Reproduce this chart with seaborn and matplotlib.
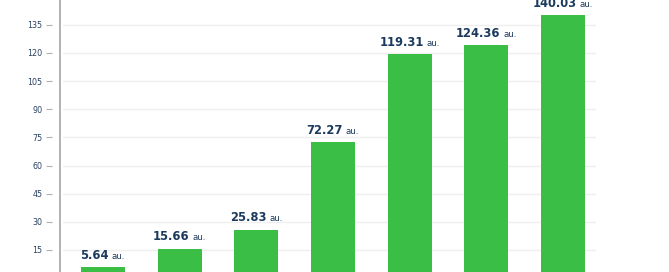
import matplotlib
matplotlib.use("Agg")
import matplotlib.pyplot as plt
import seaborn as sns
from matplotlib.lines import Line2D
from matplotlib.offsetbox import TextArea, HPacker, AnnotationBbox

categories = ["1", "2", "3", "4", "5", "6", "7"]
values = [5.64, 15.66, 25.83, 72.27, 119.31, 124.36, 140.03]
unit = "au."
yticks = [15, 30, 45, 60, 75, 90, 105, 120, 135]

W, H = 669, 272
sns.set_theme(style="white")
plt.rcParams['font.family'] = ['DejaVu Sans']

fig = plt.figure(figsize=(W / 100, H / 100), dpi=100)
left_px, right_px = 63, 596
zero_px = 278  # y pixel (from top) of value 0
ppu = 1.875
top_val = 150
ax = fig.add_axes([left_px / W, (H - zero_px) / H,
                   (right_px - left_px) / W, top_val * ppu / H])

bar_color = "#3bbe46"
sns.barplot(x=categories, y=values, color=bar_color, width=0.574,
            saturation=1, ax=ax, edgecolor="none")

ax.set_xlim(-0.52, 6.43)
ax.set_ylim(0, top_val)
ax.set_yticks(yticks)
ax.set_yticklabels([str(t) for t in yticks])
ax.yaxis.grid(True, color="#efefef", lw=1)
ax.set_axisbelow(True)
for s in ax.spines.values():
    s.set_visible(False)
ax.spines['left'].set_position(('outward', 7.9))
ax.tick_params(axis='y', which='both', left=True, length=4.3, width=0.8,
               color="#b0b0b0", pad=2.5, labelsize=5.8, labelcolor="#2a4262")
ax.tick_params(axis='x', bottom=False, labelbottom=False)
ax.set_xlabel("")
ax.set_ylabel("")

fig.add_artist(Line2D([59.5 / W] * 2, [0, 1], color="#ababab", lw=1.3))

text_color = "#1c3a5e"
for i, v in enumerate(values):
    num = TextArea(f"{v:.2f}", textprops=dict(color=text_color, fontsize=8.3,
                                              fontweight="bold"))
    u = TextArea(unit, textprops=dict(color=text_color, fontsize=6.2))
    box = HPacker(children=[num, u], align="baseline", pad=0, sep=2.2)
    ab = AnnotationBbox(box, (i, v), xybox=(0, 3.8), xycoords="data",
                        boxcoords="offset points", box_alignment=(0.5, 0),
                        frameon=False, pad=0, annotation_clip=False)
    ax.add_artist(ab)

fig.savefig("out.png", dpi=100, facecolor="white")
